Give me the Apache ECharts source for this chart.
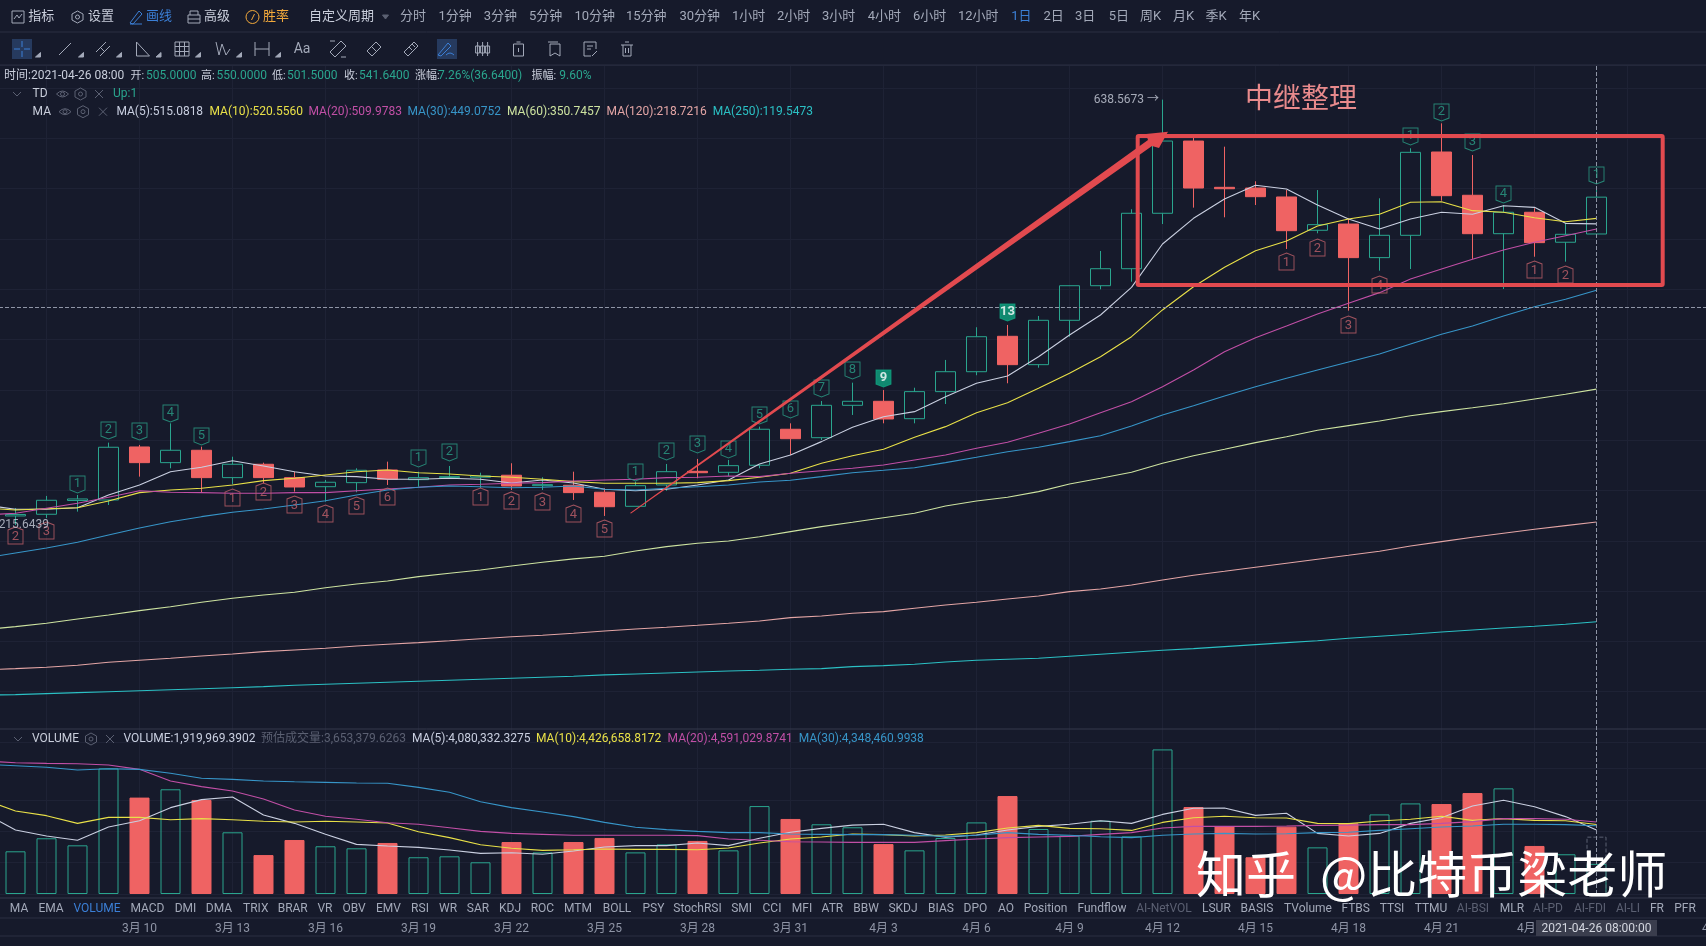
<!DOCTYPE html>
<html>
<head>
<meta charset="utf-8">
<title>K线 中继整理</title>
<style>
    html, body { margin: 0; padding: 0; background: #161a2b; overflow: hidden; }
    #chart { width: 1706px; height: 946px; }
</style>
<script src="https://cdn.jsdelivr.net/npm/echarts@6/dist/echarts.min.js"></script>
</head>
<body>
<div id="chart"></div>
<script>
const COLORS = {
    bg: '#161a2b',
    up: '#2aa58e',
    down: '#ef6363',
    grid: '#1e2235',
    sep: '#2a2f42',
    text: '#a3a9b9',
    bright: '#c9cedb',
    dim: '#5b6072',
    blue: '#3b7fd6',
    orange: '#f2a93b',
    ma5: '#c9cfe0',
    ma10: '#e8e048',
    ma20: '#c14fa6',
    ma30: '#3795c8',
    ma60: '#cde3a0',
    ma120: '#e3a5a5',
    ma250: '#2bc0c4',
    note: '#e24a4f'
}
const FONT = 'Roboto, "Noto Sans CJK SC", sans-serif'

// first row is the day before the left edge, it only feeds the MA lines
// [open, close, low, high]
const candles = [
    ['-', '-', '-', '-'],
    [224.7, 226.2, 215.64, 232.6], [226.4, 240.3, 222.7, 244.6], [240.1, 241.6, 229, 245.6], [240.6, 293, 235.6, 297.6],
    [293.3, 277.7, 263.8, 295.3], [277.7, 290, 272.1, 316.8], [290, 262.8, 248.3, 293.6], [262.8, 276.1, 256.2, 283.6],
    [276.1, 262.8, 257.2, 277.7], [262.8, 253.5, 248.9, 268.7], [253.8, 258.2, 238.9, 260.5], [257.8, 270.1, 248.3, 272.1],
    [270.4, 261.2, 255.5, 278.7], [260.8, 262.8, 253.8, 268.7], [262.8, 263.8, 261.5, 274.4], [263.2, 264.5, 252.5, 267.7],
    [265.2, 254.5, 250.5, 277.1], [254.8, 255.8, 250.5, 263.2], [255.2, 247.9, 240.6, 268.7], [248.3, 233.9, 224.7, 252.2],
    [234.3, 254.8, 234.3, 258.8], [255.5, 268.7, 249.8, 276.4], [269.1, 267.7, 262.2, 281.4], [268.1, 274.7, 264.5, 280.4],
    [275.1, 310.9, 272.1, 313.5], [310.9, 301.5, 285.3, 316.8], [302.5, 334.7, 300.2, 339], [334.7, 338.7, 325.1, 357.2],
    [338.7, 321.1, 316.8, 349.9], [321.4, 348.3, 316.8, 352.2], [348.3, 368.1, 336, 379.8], [368.1, 402.9, 364.6, 412.3],
    [403.3, 375.1, 356.6, 414.6], [375.1, 419.2, 372.1, 423.5], [419.2, 453.6, 402.9, 453.6], [453.6, 470.5, 450, 488.1],
    [470.5, 525.6, 457.6, 529.6], [525.6, 597.4, 514.9, 638.5673], [597.4, 550.7, 531.2, 601.1], [551.4, 550, 521.6, 591.8],
    [550.7, 542.1, 533.8, 557.4], [541.8, 508.3, 490.1, 548.7], [508.7, 514.3, 505.7, 548.7], [514.9, 481.5, 428.8, 520.6],
    [481.5, 503.7, 468.5, 540.5], [503.7, 586.2, 470.2, 590.2], [586.5, 543.1, 538.1, 615], [543.5, 505.3, 480.2, 583.5],
    [505.3, 526.6, 450.3, 533.8], [526.6, 496.4, 482.4, 530.6], [496.8, 504.7, 477.5, 515.6], [505, 541.64, 501.5, 550]
]

const priceMA = {
    'MA(5)': [235.6, 231.4, 231.4, 232.9, 245.6, 255.5, 268.7, 273.1, 279.6, 274.4, 268.7, 264.5, 263.8, 261.2, 261.2, 262.2, 261.2, 257.5, 260.5, 257.5, 251.2, 249.8, 251.2, 255.5, 260.5, 276.4, 285.3, 298.6, 312.9, 323.4, 328.4, 343.3, 356.6, 363.9, 383, 404.6, 424.5, 452, 495.1, 520.6, 539.8, 553.4, 549.7, 533.8, 519.9, 510, 519.9, 526.6, 524.6, 533.1, 531.5, 515.6, 515.08],
    'MA(10)': [232.6, 230.7, 231.9, 232.9, 239.6, 247.9, 250.5, 252.2, 255.5, 259.8, 262.2, 265.4, 268.7, 270.4, 267.7, 266.4, 264.5, 263.2, 261.2, 258.8, 257.2, 257.2, 257.2, 257.8, 259.8, 263.2, 267.1, 277.1, 284.6, 291, 302.9, 313.5, 327.4, 337.3, 351.6, 366.5, 383, 402.9, 429.5, 452.6, 471.9, 488.4, 498.1, 513, 519.9, 524.6, 536.5, 537.1, 528.2, 526.6, 521.2, 517.2, 520.56],
    'MA(20)': [225.7, 227.4, 232.3, 237.3, 243.3, 249.8, 248.3, 247.9, 247.3, 247.3, 247.9, 247.9, 249.8, 251.5, 253.2, 255.5, 256.2, 257.2, 257.8, 259.5, 260.5, 261.2, 262.8, 263.2, 264.5, 263.8, 267.1, 269.7, 272.1, 275.4, 280.4, 285.3, 292, 297.9, 306.9, 316.1, 327.4, 338.3, 353.2, 369.8, 388, 401.9, 413.6, 425.5, 436.1, 446.7, 460.3, 470.2, 479.9, 489.1, 496.8, 503.3, 509.98],
    'MA(30)': [183, 187.9, 192.9, 198.6, 205.8, 212.8, 219, 224, 228.4, 231.7, 235.6, 239.9, 245.6, 250.5, 253.2, 254.5, 253.8, 252.8, 253.2, 254.5, 251.2, 250.5, 252.2, 253.8, 255.5, 258.5, 260.2, 263.8, 267.7, 270.1, 272.7, 277.7, 283, 288.6, 293, 298.6, 304.5, 314.1, 325.1, 334.3, 344, 353.2, 361.6, 369.8, 377.8, 385.7, 395.7, 405.3, 413.6, 423.5, 432.7, 440.1, 449.08],
    'MA(60)': [111.7, 114.7, 118, 122.3, 126.3, 130.6, 134.5, 138.9, 142.9, 146.2, 148.9, 153.4, 157.1, 160.1, 164.4, 167.7, 171, 175, 178.7, 182, 184.6, 189.9, 194.2, 197.6, 199.8, 204.1, 209.1, 214.1, 218.4, 223, 227.4, 234.6, 239.6, 243.3, 248.9, 256.5, 262.2, 268.1, 277.1, 284.6, 291, 297.6, 303.5, 309.9, 314.5, 319.1, 324.4, 328.4, 332.3, 336.3, 341, 345.7, 350.75],
    'MA(120)': [71.6, 72.9, 74.3, 76.3, 79.3, 81.3, 83.2, 85.5, 87.5, 89.8, 91.5, 93.2, 95.5, 97.2, 98.8, 100.7, 102.7, 104.7, 106.1, 108.1, 110.4, 112.4, 114.1, 116, 118, 120.3, 123.6, 125.3, 128, 129.6, 133, 136.2, 138.9, 142.2, 145.2, 149.5, 152.1, 156.1, 161.1, 165.8, 169.7, 173.7, 177.7, 181.7, 185.6, 189.6, 194.9, 199.2, 203.5, 207.5, 211.5, 215.1, 218.72],
    'MA(250)': [46.6, 47.1, 48.1, 49.1, 50, 51, 52, 53, 54, 55, 56.4, 57.4, 58.4, 59.4, 60.4, 61.4, 62.4, 63.4, 64.4, 65.4, 66.7, 67.6, 68.6, 69.6, 70.6, 71.3, 72.3, 72.9, 74.9, 75.9, 77.3, 79.6, 81.3, 82.3, 83.2, 85.2, 87.2, 89.2, 91.2, 92.8, 94.8, 96.8, 98.8, 100.7, 103.1, 105.1, 107.1, 109.4, 111.4, 113.4, 115.1, 117.1, 119.55]
}
const priceMAColors = {
    'MA(5)': COLORS.ma5, 'MA(10)': COLORS.ma10, 'MA(20)': COLORS.ma20, 'MA(30)': COLORS.ma30,
    'MA(60)': COLORS.ma60, 'MA(120)': COLORS.ma120, 'MA(250)': COLORS.ma250
}

// volume, in millions
const volume = ['-', 2.72, 3.55, 3.10, 8.00, 6.14, 6.67, 5.99, 3.93, 2.48, 3.44, 3.04, 2.91, 3.25, 2.34, 2.40, 2.02, 3.31, 2.65, 3.31, 3.57, 2.65, 3.16, 3.38, 2.78, 5.60, 4.78, 4.44, 4.25, 3.18, 2.78, 3.57, 4.56, 6.24, 4.14, 3.72, 4.67, 3.67, 9.21, 5.54, 4.31, 2.34, 4.29, 2.97, 4.50, 5.07, 5.77, 5.73, 6.43, 6.73, 3.06, 2.53, 1.92]
const volumeMA = {
    'VOL MA(5)': [5.14, 4.08, 3.69, 3.42, 4.27, 4.67, 5.50, 6.01, 6.18, 5.03, 4.50, 3.80, 3.16, 3.06, 2.97, 2.80, 2.59, 2.63, 2.53, 2.74, 2.99, 3.08, 3.08, 3.25, 3.08, 3.55, 3.93, 4.18, 4.39, 4.44, 3.91, 3.61, 3.76, 4.08, 4.31, 4.44, 4.67, 4.50, 5.07, 5.46, 5.48, 5.01, 5.14, 3.86, 3.69, 3.86, 4.50, 4.86, 5.60, 5.97, 5.56, 4.93, 4.08],
    'VOL MA(10)': [5.99, 5.29, 4.99, 4.50, 4.88, 4.88, 4.73, 4.80, 4.73, 4.63, 4.59, 4.63, 4.59, 4.52, 3.97, 3.59, 3.14, 2.91, 2.78, 2.82, 2.87, 2.84, 2.84, 2.82, 2.93, 3.25, 3.50, 3.63, 3.82, 3.78, 3.69, 3.76, 3.91, 4.20, 4.37, 4.18, 4.16, 4.05, 4.56, 4.86, 4.95, 4.86, 4.84, 4.50, 4.48, 4.65, 4.76, 4.95, 4.69, 4.80, 4.69, 4.67, 4.43],
    'VOL MA(20)': [8.47, 8.36, 8.32, 8.30, 8.22, 7.94, 7.20, 6.84, 6.56, 6.05, 5.35, 4.95, 4.76, 4.54, 4.44, 4.22, 3.99, 3.86, 3.80, 3.74, 3.74, 3.74, 3.74, 3.72, 3.50, 3.42, 3.33, 3.31, 3.29, 3.29, 3.29, 3.40, 3.50, 3.59, 3.63, 3.67, 3.80, 3.91, 4.20, 4.31, 4.31, 4.31, 4.33, 4.37, 4.39, 4.42, 4.42, 4.50, 4.61, 4.80, 4.80, 4.76, 4.59],
    'VOL MA(30)': [8.26, 8.17, 8.07, 7.90, 7.98, 7.94, 7.69, 7.37, 7.30, 7.20, 7.15, 7.11, 7.07, 7.05, 6.79, 6.48, 5.88, 5.50, 5.22, 4.93, 4.56, 4.25, 4.10, 3.99, 3.91, 3.91, 3.82, 3.80, 3.78, 3.78, 3.74, 3.67, 3.74, 3.91, 3.80, 3.74, 3.65, 3.59, 3.74, 3.82, 3.86, 3.82, 3.84, 3.91, 3.93, 4.05, 4.16, 4.27, 4.33, 4.44, 4.44, 4.42, 4.35]
}
const volumeMAColors = {
    'VOL MA(5)': COLORS.ma5, 'VOL MA(10)': COLORS.ma10, 'VOL MA(20)': COLORS.ma20, 'VOL MA(30)': COLORS.ma30
}
const estimatedVolume = 3.6534

// TD sequence counters: [row in candles, price at the pointer tip, count]
const tdUp = [
    [3, 247.6, '1'], [4, 301.2, '2'], [5, 300.2, '3'], [6, 318.1, '4'], [7, 295.3, '5'],
    [14, 273.4, '1'], [15, 279.4, '2'],
    [21, 259.5, '1'], [22, 280.4, '2'], [23, 287.3, '3'], [24, 282.4, '4'], [25, 316.1, '5'],
    [26, 322.1, '6'], [27, 343, '7'], [28, 360.9, '8'], [29, 352.9, '9'], [33, 418.5, '13'],
    [46, 593.5, '1'], [47, 617.3, '2'], [48, 587.5, '3'], [49, 535.8, '4'], [52, 554.7, '1']
]
const tdDown = [
    [1, 213.8, '2'], [2, 218.7, '3'],
    [8, 251.5, '1'], [9, 257.5, '2'], [10, 244.6, '3'], [11, 235.6, '4'], [12, 243.6, '5'], [13, 252.5, '6'],
    [16, 252.5, '1'], [17, 248.6, '2'], [18, 247.6, '3'], [19, 235.6, '4'], [20, 220.7, '5'],
    [42, 486.1, '1'], [43, 500, '2'], [44, 423.5, '3'], [45, 463.3, '4'],
    [50, 478.2, '1'], [51, 473.2, '2']
]

// days from 3月5 on, the axis runs a little past the last candle
const categories = []
for (let i = 0; i < 57; i++) {
    const d = new Date(2021, 2, 5 + i)
    categories.push((d.getMonth() + 1) + '月 ' + d.getDate())
}
const lastRow = candles.length - 1
const every3 = index => index % 3 === 2

const chart = echarts.init(document.getElementById('chart'))

const xAxisBase = {
    type: 'category',
    data: categories,
    boundaryGap: true,
    axisLine: { show: false },
    axisTick: { show: false },
    splitLine: { show: true, alignWithLabel: true, interval: every3, lineStyle: { color: COLORS.grid, width: 1 } }
}

function lineSeries(name, values, color, xAxisIndex) {
    return {
        name,
        type: 'line',
        xAxisIndex,
        yAxisIndex: xAxisIndex,
        data: values,
        showSymbol: false,
        smooth: false,
        lineStyle: { color, width: 1.1 },
        silent: true,
        z: 4
    }
}

function tdSeries(name, rows, color, symbol, offsetY, filled) {
    return {
        name,
        type: 'scatter',
        data: rows.map(r => {
            const item = { value: r }
            if (filled.includes(r[2] + '@' + r[0])) {
                item.itemStyle = { color: '#0fa582', borderColor: '#0fa582' }
                item.label = { color: '#ffffff', fontWeight: 'bold' }
            }
            return item
        }),
        symbol,
        symbolSize: [15, 17],
        symbolOffset: [0, offsetY],
        itemStyle: { color: 'transparent', borderColor: color, borderWidth: 1 },
        label: {
            show: true,
            position: 'inside',
            offset: [0, offsetY < 0 ? -1 : 1],
            formatter: p => p.value[2],
            color,
            fontSize: 13,
            fontFamily: FONT
        },
        silent: true,
        z: 6
    }
}

// all header and toolbar text is drawn through the graphic component
function txt(x, y, text, fill, size, align) {
    return {
        type: 'text', x, y, z: 50, silent: true,
        style: {
            text, fill: fill || COLORS.text,
            font: (size || 12) + 'px ' + FONT,
            align: align || 'left', verticalAlign: 'middle'
        }
    }
}

// the graphic component has no plain path type, so each glyph gets registered as a shape
const iconShapes = new Map()
function iconShape(pathData) {
    if (!iconShapes.has(pathData)) {
        const name = 'toolIcon' + iconShapes.size
        echarts.graphic.registerShape(name, echarts.graphic.extendPath(pathData, {}))
        iconShapes.set(pathData, name)
    }
    return iconShapes.get(pathData)
}
function icon(x, y, pathData, color, fill) {
    return {
        type: iconShape(pathData), x, y, z: 50, silent: true,
        style: { stroke: color || COLORS.text, fill: fill || 'none', lineWidth: 1 }
    }
}
function hline(y, color) {
    return {
        type: 'line', z: 1, silent: true,
        shape: { x1: 0, y1: y, x2: 1706, y2: y },
        style: { stroke: color || COLORS.sep, lineWidth: 1 }
    }
}
function watermark(x, text) {
    return {
        type: 'text', x, y: 874, z: 60, silent: true,
        style: {
            text, fill: '#ffffff',
            font: '50px "Noto Sans CJK SC"',
            align: 'left', verticalAlign: 'middle',
            shadowColor: 'rgba(0,0,0,0.75)', shadowBlur: 4, shadowOffsetX: 2, shadowOffsetY: 2
        }
    }
}

const EYE = 'M-6 0Q0 -6 6 0Q0 6 -6 0ZM-2 0A2 2 0 1 0 2 0A2 2 0 1 0 -2 0Z'
const HEX = 'M0 -6L5.5 -3V3L0 6L-5.5 3V-3ZM-2 0A2 2 0 1 0 2 0A2 2 0 1 0 -2 0Z'
const CROSS = 'M-4 -4L4 4M4 -4L-4 4'
const CHEV = 'M-4 -2L0 2L4 -2'

const periods = [
    [400, '分时'], [438.5, '1分钟'], [483.7, '3分钟'], [529, '5分钟'], [574.5, '10分钟'], [626, '15分钟'], [679.5, '30分钟'],
    [732, '1小时'], [777, '2小时'], [822, '3小时'], [867.7, '4小时'], [913, '6小时'], [958, '12小时'], [1011.3, '1日', COLORS.blue],
    [1043.4, '2日'], [1075, '3日'], [1108.7, '5日'], [1140, '周K'], [1173, '月K'], [1205.6, '季K'], [1239, '年K']
]
const tabs = [
    [19, 'MA'], [51, 'EMA'], [97, 'VOLUME', COLORS.blue], [147.4, 'MACD'], [185.5, 'DMI'], [219, 'DMA'], [255.7, 'TRIX'], [292.7, 'BRAR'],
    [325, 'VR'], [354, 'OBV'], [388.5, 'EMV'], [420, 'RSI'], [448, 'WR'], [478, 'SAR'], [510, 'KDJ'], [542.4, 'ROC'], [578, 'MTM'],
    [617, 'BOLL'], [653.4, 'PSY'], [697.5, 'StochRSI'], [741.6, 'SMI'], [772, 'CCI'], [802, 'MFI'], [832.4, 'ATR'], [866, 'BBW'],
    [903, 'SKDJ'], [941, 'BIAS'], [975.4, 'DPO'], [1006, 'AO'], [1045.6, 'Position'], [1102, 'Fundflow'], [1164, 'AI-NetVOL', COLORS.dim],
    [1216.4, 'LSUR'], [1257, 'BASIS'], [1308, 'TVolume'], [1355.7, 'FTBS'], [1392, 'TTSI'], [1431, 'TTMU'], [1473, 'AI-BSI', COLORS.dim],
    [1512, 'MLR'], [1548, 'AI-PD', COLORS.dim], [1590, 'AI-FDI', COLORS.dim], [1628, 'AI-LI', COLORS.dim], [1657, 'FR'], [1685, 'PFR']
]
const quote = [
    [4, '时间:2021-04-26 08:00', COLORS.bright, 12], [130.6, '开:', COLORS.bright, 11], [146, '505.0000', COLORS.up, 12],
    [201, '高:', COLORS.bright, 11], [216.5, '550.0000', COLORS.up, 12], [272, '低:', COLORS.bright, 11], [287, '501.5000', COLORS.up, 12],
    [344, '收:', COLORS.bright, 11], [359, '541.6400', COLORS.up, 12], [415, '涨幅:', COLORS.bright, 11], [438, '7.26%(36.6400)', COLORS.up, 12],
    [531.5, '振幅:', COLORS.bright, 11], [559.3, '9.60%', COLORS.up, 12]
]
const maLegend = [
    [116.4, 'MA(5):515.0818', COLORS.ma5], [209.5, 'MA(10):520.5560', COLORS.ma10], [308.5, 'MA(20):509.9783', COLORS.ma20],
    [407.5, 'MA(30):449.0752', COLORS.ma30], [507, 'MA(60):350.7457', COLORS.ma60], [606.6, 'MA(120):218.7216', COLORS.ma120],
    [712.7, 'MA(250):119.5473', COLORS.ma250]
]
const volLegend = [
    [123.5, 'VOLUME:1,919,969.3902', COLORS.ma5], [261, '预估成交量:3,653,379.6263', COLORS.dim], [412, 'MA(5):4,080,332.3275', COLORS.ma5],
    [536, 'MA(10):4,426,658.8172', COLORS.ma10], [667.6, 'MA(20):4,591,029.8741', COLORS.ma20], [798.7, 'MA(30):4,348,460.9938', COLORS.ma30]
]

const toolbarIcons = [
    [65, 'M-6 6L6 -6'],
    [103, 'M-7 3L3 -7M-3 7L7 -3M-3 -2L2 3'],
    [142.5, 'M-6 -7V7H7Z'],
    [182, 'M-7 -7H7V7H-7ZM-2.5 -7V7M2.5 -7V7M-7 -2.5H7M-7 2.5H7'],
    [223, 'M-7 -7L-4 6L-1 -5L3 6L7 0'],
    [262, 'M-7 -7V7M7 -7V7M-7 0H7'],
    [338, 'M-8 3L3 -8L8 -3L-3 8ZM-8 -8H-3M8 8H3'],
    [374, 'M-7 2L2 -7L7 -2L-2 7ZM-3 -3L3 3'],
    [411, 'M-7 3L3 -7L7 -3L-3 7ZM-2 -2L1 1M1 -5L4 -2'],
    [446, 'M-8 6L2 -6L5 -3L-5 7ZM0 6Q4 2 8 6'],
    [482.6, 'M-7 -3H-3V4H-7ZM-2 -3H2V4H-2ZM3 -3H7V4H3ZM-5 -7V7M0 -7V7M5 -7V7'],
    [518.5, 'M-5 -5H5V7H-5ZM-2 -7H2M0 -1V3'],
    [555, 'M-5 -5H5V7L0 4L-5 7ZM-7 -7H3'],
    [590, 'M-6 -7H6V0M-6 -7V7H1M-3 -3H3M-3 0H1M2 7L7 2'],
    [627, 'M-6 -4H6M-4 -4V7H4V-4M-2 -7H2M-1.5 -1V4M1.5 -1V4']
]
const cornered = [65, 103, 142.5, 182, 223, 262, 22]

const graphics = [
    hline(32), hline(65), hline(729, '#34394c'), hline(898, '#34394c'), hline(918), hline(936),
    // top row
    icon(18, 17, 'M-6 -6H6V6H-6ZM-4 2L-1 -2L1 1L4 -3'), txt(28.3, 17, '指标', COLORS.bright, 13),
    icon(77.5, 17, HEX), txt(88, 17, '设置', COLORS.bright, 13),
    icon(136, 17, 'M-6 6L3 -6L6 -3L-3 7ZM-6 7H6', COLORS.blue), txt(146, 17, '画线', COLORS.blue, 13),
    icon(194, 17, 'M-6 -2H6V6H-6ZM-4 -2V-6H4V-2M-6 2H6'), txt(204, 17, '高级', COLORS.bright, 13),
    icon(252.5, 17, 'M-6.5 0A6.5 6.5 0 1 0 6.5 0A6.5 6.5 0 1 0 -6.5 0ZM2 -3L-1 3', COLORS.orange), txt(263, 17, '胜率', COLORS.orange, 13),
    txt(309, 17, '自定义周期', COLORS.bright, 13),
    icon(385.5, 17, 'M-3 -2H3L0 2Z', COLORS.dim, COLORS.dim),
    ...periods.map(p => txt(p[0], 17, p[1], p[2], 13)),
    // drawing tools row
    { type: 'rect', z: 49, silent: true, shape: { x: 12, y: 39, width: 20, height: 20 }, style: { fill: '#263a5e' } },
    { type: 'rect', z: 49, silent: true, shape: { x: 437, y: 39, width: 20, height: 20 }, style: { fill: '#263a5e' } },
    icon(22, 49, 'M-8 0H-2M2 0H8M0 -8V-2M0 2V8', COLORS.blue),
    ...toolbarIcons.map(i => icon(i[0], 49, i[1], i[0] === 446 ? COLORS.blue : COLORS.text)),
    ...cornered.map(x => icon(x + 16, 55, 'M-2.5 2H2.5V-2.5Z', COLORS.text, COLORS.text)),
    txt(302, 49, 'Aa', COLORS.text, 14, 'center'),
    // quote and legends
    ...quote.map(q => txt(q[0], 76, q[1], q[2], q[3])),
    icon(17, 94, CHEV, COLORS.dim), txt(32.6, 94, 'TD', COLORS.bright, 12),
    icon(62.5, 94, EYE, COLORS.dim), icon(80.5, 94, HEX, COLORS.dim), icon(99, 94, CROSS, COLORS.dim),
    txt(113, 94, 'Up:1', COLORS.up, 12),
    txt(32.6, 111.7, 'MA', COLORS.bright, 12),
    icon(65, 111.7, EYE, COLORS.dim), icon(83, 111.7, HEX, COLORS.dim), icon(103, 111.7, CROSS, COLORS.dim),
    ...maLegend.map(m => txt(m[0], 111.7, m[1], m[2], 12)),
    icon(18, 739, CHEV, COLORS.dim), txt(32, 739, 'VOLUME', COLORS.bright, 12),
    icon(91, 739, HEX, COLORS.dim), icon(110, 739, CROSS, COLORS.dim),
    ...volLegend.map(m => txt(m[0], 739, m[1], m[2], 12)),
    ...tabs.map(t => txt(t[0], 908.7, t[1], t[2] || COLORS.text, 12, 'center')),
    // last axis label, cut by the window edge
    txt(1702, 929, categories[56], '#8f95a6', 12),
    // hand drawn annotation on the picture
    {
        type: 'rect', z: 30, silent: true,
        shape: { x: 1137.7, y: 136, width: 525, height: 149, r: 1 },
        style: { stroke: COLORS.note, fill: 'none', lineWidth: 4 }
    },
    {
        type: 'polygon', z: 30, silent: true,
        shape: { points: [[630, 513], [1148, 140], [1146, 134], [1168, 131.7], [1159, 148], [1152, 146], [631, 513.5]] },
        style: { fill: COLORS.note }
    },
    {
        type: 'text', x: 1301, y: 97.5, z: 30, silent: true,
        style: { text: '中继整理', fill: '#e88a8c', font: '28px "Noto Sans CJK SC"', align: 'center', verticalAlign: 'middle' }
    },
    // crosshair time tag
    { type: 'rect', z: 40, silent: true, shape: { x: 1536, y: 920, width: 121, height: 16 }, style: { fill: '#3a3d4d' } },
    txt(1596.5, 929, '2021-04-26 08:00:00', '#d4d7e0', 12, 'center'),
    // watermark
    watermark(1196, '知乎'),
    watermark(1320, '@比特币梁老师')
]

const option = {
    animation: false,
    backgroundColor: COLORS.bg,
    textStyle: { fontFamily: FONT },
    graphic: { elements: graphics },
    grid: [
        // the grids run past both sides of the canvas, v6 would pull them back in otherwise
        { left: -31, width: 1767, top: 65, height: 677, outerBoundsMode: 'none' },
        { left: -31, width: 1767, top: 742, height: 152, outerBoundsMode: 'none' }
    ],
    xAxis: [
        { ...xAxisBase, gridIndex: 0, axisLabel: { show: false } },
        {
            ...xAxisBase, gridIndex: 1,
            axisLabel: {
                show: true,
                interval: index => every3(index) && index >= 5 && index < 56,
                margin: 29, color: '#8f95a6', fontSize: 12, fontFamily: FONT
            }
        }
    ],
    yAxis: [
        {
            type: 'value', gridIndex: 0, min: 0, max: 673, interval: 50,
            axisLabel: { show: false }, axisLine: { show: false }, axisTick: { show: false },
            splitLine: { show: true, showMinLine: false, lineStyle: { color: COLORS.grid, width: 1 } }
        },
        {
            type: 'value', gridIndex: 1, min: 0, max: 9.682, interval: 2,
            axisLabel: { show: false }, axisLine: { show: false }, axisTick: { show: false },
            splitLine: { show: true, lineStyle: { color: COLORS.grid, width: 1 } }
        }
    ],
    series: [
        {
            name: 'K',
            type: 'candlestick',
            data: candles,
            barWidth: 20,
            itemStyle: {
                color: 'transparent',
                color0: COLORS.down,
                borderColor: COLORS.up,
                borderColor0: COLORS.down,
                borderWidth: 1
            },
            silent: true,
            z: 3,
            markLine: {
                silent: true,
                symbol: 'none',
                label: { show: false },
                lineStyle: { color: '#8f95a6', type: 'dashed', width: 1 },
                data: [{ yAxis: 432.1 }, { xAxis: categories[lastRow] }]
            }
        },
        ...Object.keys(priceMA).map(k => lineSeries(k, priceMA[k], priceMAColors[k], 0)),
        tdSeries('TD up', tdUp, '#2a9f87', 'path://M0 0H14V14L7 17L0 14Z', -8.5, ['9@29', '13@33']),
        tdSeries('TD down', tdDown, '#c0606a', 'path://M7 0L14 3V17H0V3Z', 8.5, []),
        {
            name: 'extremes',
            type: 'scatter',
            symbolSize: 1,
            itemStyle: { color: 'transparent' },
            data: [
                { value: [38, 638.5673], label: { formatter: '638.5673 →', position: 'left', distance: 3 } },
                { value: [2, 215.6439], label: { formatter: '215.6439', position: 'left', distance: -3 } }
            ],
            label: { show: true, color: '#c9cedb', fontSize: 12, fontFamily: FONT },
            silent: true,
            z: 7
        },
        {
            name: 'VOLUME',
            type: 'bar',
            xAxisIndex: 1,
            yAxisIndex: 1,
            barWidth: 20,
            barGap: '-100%',
            data: volume.map((v, i) => {
                const isDown = i > 0 && candles[i][1] < candles[i][0]
                return {
                    value: v,
                    itemStyle: isDown
                        ? { color: COLORS.down, borderColor: COLORS.down, borderWidth: 1 }
                        : { color: 'transparent', borderColor: COLORS.up, borderWidth: 1 }
                }
            }),
            silent: true,
            z: 3,
            markLine: {
                silent: true,
                symbol: 'none',
                label: { show: false },
                lineStyle: { color: '#8f95a6', type: 'dashed', width: 1 },
                data: [{ xAxis: categories[lastRow] }]
            }
        },
        {
            name: '预估成交量',
            type: 'bar',
            xAxisIndex: 1,
            yAxisIndex: 1,
            barWidth: 20,
            barGap: '-100%',
            data: volume.map((v, i) => (i === lastRow ? estimatedVolume : '-')),
            itemStyle: { color: 'transparent', borderColor: '#5b6072', borderWidth: 1, borderType: 'dashed' },
            silent: true,
            z: 3
        },
        ...Object.keys(volumeMA).map(k => lineSeries(k, volumeMA[k], volumeMAColors[k], 1))
    ]
}

chart.setOption(option)
</script>
</body>
</html>
